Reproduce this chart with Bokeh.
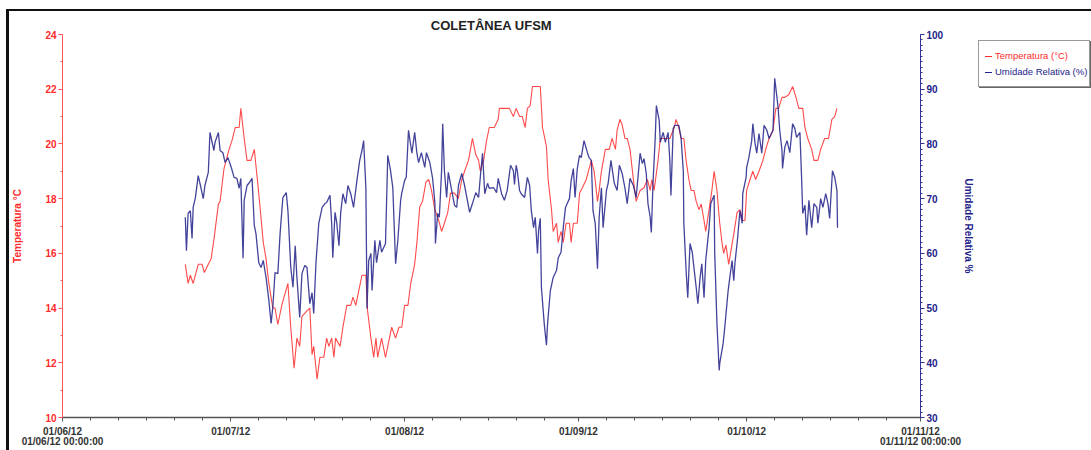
import pandas as pd
from bokeh.plotting import figure
from bokeh.layouts import row
from bokeh.models import (Range1d, LinearAxis, SingleIntervalTicker, FixedTicker,
                          DatetimeTickFormatter, ColumnDataSource, Div)
from bokeh.embed import file_html
from bokeh.resources import INLINE

# ---------------- data ----------------
title_text = "COLETÂNEA UFSM"
period_start = "2012-06-01"
period_end = "2012-11-01"
month_ticks = ["2012-06-01", "2012-07-01", "2012-08-01", "2012-09-01", "2012-10-01", "2012-11-01"]
month_labels = ["01/06/12\n01/06/12 00:00:00", "01/07/12", "01/08/12", "01/09/12", "01/10/12",
                "01/11/12\n01/11/12 00:00:00"]
minor_days = [6, 11, 16, 21, 26]
temp_label = "Temperatura (°C)"
rh_label = "Umidade Relativa (%)"

# days since 2012-06-01
temp_days = [21.9, 22.4, 22.8, 23.3, 24.2, 24.9, 25.3, 26.0, 26.5, 27.0, 27.8, 28.1, 28.8, 29.7, 30.2,
             30.8, 31.5, 31.8, 32.4, 32.9, 33.6, 34.2, 34.9, 35.4, 35.8, 36.3, 36.8, 37.5, 37.9, 38.4,
             39.1, 39.5, 40.2, 40.7, 41.3, 41.8, 42.3, 42.7, 43.6, 44.1, 44.5, 44.8, 45.4, 45.9, 46.6,
             47.1, 47.5, 48.0, 48.4, 48.7, 49.5, 50.0, 50.7, 51.4, 51.8, 52.3, 52.8, 53.4, 54.1, 54.4,
             55.0, 55.5, 55.9, 56.2, 56.9, 57.6, 58.0, 58.7, 59.4, 60.0, 60.5, 61.0, 61.6, 62.1, 62.8,
             63.2, 63.7, 64.2, 64.8, 65.3, 65.8, 66.4, 67.1, 67.6, 68.1, 68.7, 69.2, 69.9, 70.6, 71.2,
             71.7, 72.4, 73.1, 73.7, 74.2, 74.5, 75.1, 75.6, 76.1, 77.0, 77.7, 77.9, 78.8, 79.7, 80.4,
             80.9, 81.5, 82.0, 82.5, 82.9, 83.4, 83.8, 84.7, 85.2, 85.6, 86.3, 86.6, 87.2, 87.5, 88.1,
             88.4, 88.9, 89.3, 89.8, 90.4, 90.7, 91.1, 91.8, 92.2, 92.7, 93.4, 93.9, 94.3, 94.8, 95.4,
             95.7, 96.1, 96.8, 97.5, 98.0, 98.6, 98.9, 99.4, 99.8, 100.3, 100.7, 101.2, 101.8, 102.3,
             103.0, 103.7, 104.3, 104.8, 105.1, 105.5, 106.2, 106.6, 107.5, 108.3, 109.1, 109.4,
             109.9, 110.3, 110.8, 111.2, 111.7, 112.1, 112.6, 113.0, 113.5, 113.9, 114.4, 114.7,
             115.3, 115.8, 116.2, 116.7, 117.2, 117.6, 117.9, 118.3, 118.8, 119.2, 119.7, 120.3,
             120.8, 121.3, 121.7, 122.0, 122.6, 123.1, 123.6, 124.2, 124.9, 125.4, 126.0, 126.7,
             127.2, 127.7, 128.3, 128.8, 129.5, 130.2, 130.8, 131.3, 132.0, 132.4, 132.9, 133.6,
             134.0, 134.7, 135.2, 135.9, 136.6, 137.2, 137.7, 138.1]
temp_values = [15.6, 14.9, 15.2, 14.9, 15.6, 15.6, 15.3, 15.6, 15.8, 16.5, 17.8, 17.9, 19.1, 19.8, 20.1,
               20.6, 20.6, 21.3, 20.2, 19.4, 19.4, 19.8, 18.4, 17.3, 16.4, 15.8, 14.9, 14.0, 14.0, 13.4,
               14.1, 14.4, 14.9, 13.3, 11.8, 12.9, 12.6, 13.7, 13.9, 14.0, 12.3, 12.6, 11.4, 12.2, 12.2,
               12.9, 12.6, 12.9, 12.2, 12.9, 12.6, 13.3, 14.1, 14.1, 14.4, 14.1, 14.6, 15.2, 15.2, 13.9,
               12.9, 12.2, 12.9, 12.2, 12.9, 12.2, 12.6, 13.3, 12.9, 13.3, 13.3, 14.1, 14.1, 14.9, 15.6,
               16.4, 17.7, 17.9, 18.6, 18.7, 18.3, 17.6, 17.2, 16.8, 17.1, 17.5, 18.2, 18.2, 18.0, 18.7,
               19.0, 19.4, 20.2, 19.6, 19.4, 19.0, 19.4, 20.1, 20.6, 20.6, 20.9, 21.3, 21.3, 21.3, 21.0,
               21.3, 21.0, 21.0, 20.6, 21.3, 21.4, 22.1, 22.1, 22.1, 20.6, 19.9, 18.7, 17.6, 16.8, 17.1,
               16.4, 16.8, 16.4, 17.1, 17.1, 16.4, 17.1, 17.1, 18.2, 18.4, 18.7, 19.1, 19.4, 19.0, 17.9,
               18.3, 19.0, 19.8, 19.8, 20.2, 19.8, 20.5, 20.9, 20.7, 20.2, 20.2, 19.8, 18.7, 17.9,
               18.3, 18.4, 18.7, 18.3, 18.7, 18.3, 19.4, 20.2, 20.2, 20.2, 20.6, 20.9,
               20.6, 20.2, 20.2, 19.4, 18.7, 18.3, 18.3, 17.9, 17.6, 17.8, 17.2, 16.8,
               17.6, 18.3, 19.0, 18.3, 17.1, 16.4, 16.0, 16.3, 15.6, 16.1, 16.7, 17.5,
               17.6, 17.2, 17.2, 18.3, 18.7, 19.0, 18.7, 19.0, 19.4, 19.8, 20.2, 20.5,
               21.3, 21.3, 21.7, 21.7, 21.8, 22.1, 21.7, 21.3, 21.3, 20.6, 20.2, 19.8,
               19.4, 19.4, 19.8, 20.2, 20.2, 20.9, 21.0, 21.3]

rh_days = [21.9, 22.1, 22.4, 22.8, 23.1, 23.3, 23.7, 24.2, 24.6, 25.1, 25.4, 26.0, 26.3, 27.0, 27.2,
           27.8, 28.1, 28.6, 29.0, 29.5, 30.1, 30.6, 31.1, 31.5, 31.8, 32.2, 32.4, 32.9, 33.3, 33.8,
           34.2, 34.5, 35.0, 35.4, 35.8, 36.3, 36.8, 37.2, 37.5, 37.9, 38.4, 38.8, 39.3, 39.9, 40.2,
           40.7, 41.1, 41.5, 41.8, 42.3, 42.7, 43.2, 43.6, 44.1, 44.5, 44.8, 45.2, 45.7, 46.3, 46.8,
           47.1, 47.7, 48.0, 48.2, 48.6, 48.9, 49.3, 49.6, 50.0, 50.5, 50.9, 51.4, 51.9, 52.5, 53.0,
           53.4, 53.7, 54.1, 54.3, 54.6, 55.0, 55.2, 55.7, 56.0, 56.6, 56.9, 57.6, 58.0, 58.5, 58.9,
           59.4, 59.8, 60.3, 60.5, 61.0, 61.3, 61.7, 62.3, 62.8, 63.2, 63.5, 64.0, 64.6, 64.9, 65.5,
           66.0, 66.4, 66.5, 66.9, 67.2, 67.6, 67.8, 68.1, 68.5, 68.8, 69.4, 69.9, 70.3, 70.6, 71.2,
           71.7, 72.2, 72.6, 73.1, 73.7, 74.2, 74.5, 74.9, 75.3, 75.8, 76.1, 76.9, 77.4, 77.7, 78.3,
           78.8, 79.3, 79.9, 80.4, 80.6, 80.9, 81.1, 81.5, 81.8, 82.4, 82.9, 83.3, 83.6, 84.0, 84.3,
           84.7, 84.9, 85.2, 85.4, 85.9, 86.3, 86.5, 87.0, 87.5, 88.1, 88.4, 88.9, 89.3, 89.7, 90.0,
           90.4, 90.7, 91.1, 91.4, 91.8, 92.2, 92.5, 93.0, 93.6, 93.9, 94.3, 94.6, 95.0, 95.4, 95.7,
           96.1, 96.4, 97.0, 97.3, 97.8, 98.4, 98.9, 99.3, 99.8, 100.3, 100.7, 101.2, 101.8, 102.3,
           103.0, 103.4, 103.7, 104.1, 104.4, 104.8, 105.0, 105.3, 105.7, 105.9, 106.4, 106.6,
           107.1, 107.5, 108.0, 108.3, 108.5, 108.9, 109.2, 109.9, 110.3, 110.7, 110.8, 111.2,
           111.5, 111.9, 112.3, 112.6, 113.0, 113.3, 113.7, 114.0, 114.4, 114.7, 115.3, 115.6,
           116.2, 116.3, 116.7, 117.1, 117.2, 117.8, 118.1, 118.7, 119.0, 119.4, 119.7, 119.9,
           120.4, 120.8, 121.2, 121.3, 121.9, 122.0, 122.4, 122.9, 123.1, 123.5, 123.8, 124.2,
           124.7, 125.1, 125.6, 126.0, 126.5, 126.7, 127.0, 127.4, 127.6, 127.9, 128.3, 128.4,
           128.8, 129.2, 129.7, 130.2, 130.6, 130.9, 131.5, 131.8, 132.0, 132.4, 132.7, 133.1,
           133.6, 134.0, 134.5, 134.7, 135.2, 135.6, 136.1, 136.5, 136.8, 137.2, 137.3, 137.7,
           138.1, 138.2]
rh_values = [66.6, 60.5, 67.3, 67.8, 62.7, 68.4, 70.2, 74.2, 72.4, 70.0, 72.4, 74.8, 82.1, 78.8, 80.3,
             82.1, 78.8, 78.4, 76.6, 77.5, 75.7, 73.9, 73.7, 71.9, 73.7, 59.1, 69.7, 72.4, 72.9, 73.7,
             65.1, 63.6, 58.3, 57.4, 58.7, 55.6, 51.4, 47.2, 50.1, 56.5, 56.3, 63.6, 70.2, 71.1, 67.8,
             57.5, 53.8, 61.4, 55.6, 48.3, 56.3, 57.8, 57.4, 50.8, 52.8, 49.0, 58.3, 65.5, 68.4, 69.1,
             69.3, 70.6, 65.5, 59.2, 67.5, 65.6, 61.4, 67.3, 70.9, 69.1, 72.4, 70.9, 68.4, 73.3, 77.0,
             78.8, 80.6, 72.0, 49.9, 58.7, 60.0, 53.2, 62.4, 58.3, 62.4, 60.2, 61.8, 77.9, 75.1, 72.0,
             58.1, 62.4, 69.7, 71.0, 73.3, 73.9, 82.5, 78.3, 82.1, 78.3, 76.6, 78.4, 75.7, 78.4, 76.6,
             73.7, 69.3, 61.8, 67.3, 66.6, 75.1, 83.7, 75.1, 70.2, 74.8, 71.5, 68.8, 68.4, 72.4, 74.6,
             72.4, 69.7, 67.5, 69.1, 71.1, 70.2, 73.9, 78.3, 70.9, 72.8, 71.9, 72.0, 71.1, 73.7, 70.9,
             69.7, 71.5, 76.1, 75.1, 72.6, 76.1, 75.1, 71.5, 70.9, 70.2, 73.9, 72.4, 67.8, 64.7, 66.6,
             60.0, 64.2, 66.4, 53.8, 47.2, 43.2, 47.2, 53.2, 55.6, 56.9, 59.2, 60.2, 64.7, 68.4, 69.1,
             70.0, 73.3, 75.5, 70.2, 75.5, 77.9, 77.5, 80.6, 78.4, 77.5, 77.0, 67.8, 65.5, 57.2, 66.6,
             72.0, 64.7, 71.5, 72.8, 77.0, 72.8, 71.5, 76.1, 74.6, 71.9, 69.1, 73.7, 72.4, 70.2,
             78.3, 76.4, 77.3, 74.6, 69.1, 66.6, 63.8, 72.8, 81.2, 87.0, 84.3, 80.3,
             82.1, 80.3, 82.1, 77.0, 70.6, 82.8, 83.4, 83.4, 81.2, 75.1, 65.5, 56.9,
             51.9, 61.8, 60.2, 57.4, 53.8, 50.8, 55.6, 58.1, 51.9, 58.7, 64.7, 69.1,
             70.6, 60.2, 47.2, 38.6, 39.9, 43.5, 46.5, 53.2, 55.6, 58.7, 55.0, 58.1,
             62.9, 67.8, 65.5, 70.9, 73.9, 75.7, 77.5, 80.6, 83.7, 80.1, 78.3, 81.9,
             78.3, 83.4, 82.5, 81.0, 82.1, 82.5, 92.0, 88.5, 86.7, 82.5, 78.8, 75.5,
             79.4, 80.6, 78.4, 83.7, 82.8, 81.2, 82.1, 73.7, 67.3, 68.8, 63.3, 69.7,
             64.7, 69.1, 68.4, 65.5, 70.0, 68.4, 70.9, 69.1, 66.4, 73.3, 75.1, 73.9,
             71.5, 64.7]

# ---------------- build ----------------
FONT = "Liberation Sans"
RED = "#ff2a2a"
NAVY = "#22228a"

t0 = pd.Timestamp(period_start)
temp_src = ColumnDataSource(dict(t=t0 + pd.to_timedelta(temp_days, unit="D"), v=temp_values))
rh_src = ColumnDataSource(dict(t=t0 + pd.to_timedelta(rh_days, unit="D"), v=rh_values))

p = figure(width=968, height=439, x_axis_type="datetime",
           x_range=Range1d(pd.Timestamp(period_start), pd.Timestamp(period_end)),
           y_range=Range1d(10, 24), output_backend="svg", toolbar_location=None,
           min_border_left=52, min_border_right=56, min_border_top=23, min_border_bottom=33)
p.extra_y_ranges = {"rh": Range1d(30, 100)}
p.grid.visible = False
p.outline_line_color = None
p.background_fill_color = "white"
p.border_fill_color = "white"

p.title.text = title_text
p.title.align = "center"
p.title.text_font = FONT
p.title.text_font_size = "13px"
p.title.text_font_style = "bold"
p.title.text_color = "#222222"
p.title.standoff = 3

# x axis
ms = lambda s: pd.Timestamp(s).value / 1e6
major = [ms(s) for s in month_ticks]
minor = []
for s in month_ticks[:-1]:
    ts = pd.Timestamp(s)
    minor += [ms(ts + pd.Timedelta(days=d - 1)) for d in minor_days]
xa = p.xaxis[0]
xa.ticker = FixedTicker(ticks=major, minor_ticks=minor)
xa.formatter = DatetimeTickFormatter(days="%d/%m/%y", months="%d/%m/%y")
xa.major_label_overrides = {m: lab for m, lab in zip(major, month_labels)}
xa.axis_line_color = "#555555"
xa.axis_line_width = 1.5
xa.major_tick_line_color = "#555555"
xa.minor_tick_line_color = "#555555"
xa.major_tick_out = 4
xa.major_tick_in = 0
xa.minor_tick_out = 3
xa.minor_tick_in = 0
xa.major_label_standoff = 4
xa.major_label_text_font = FONT
xa.major_label_text_font_size = "10px"
xa.major_label_text_font_style = "bold"
xa.major_label_text_color = "#333333"
xa.major_label_text_line_height = 0.95

# left axis
ya = p.yaxis[0]
ya.ticker = SingleIntervalTicker(interval=2, num_minor_ticks=2)
ya.axis_label = "Temperatura °C"
ya.axis_label_text_color = RED
ya.axis_label_text_font = FONT
ya.axis_label_text_font_size = "10px"
ya.axis_label_text_font_style = "bold"
ya.axis_label_standoff = 19
ya.axis_line_color = "#ff5555"
ya.major_tick_line_color = "#ff5555"
ya.minor_tick_line_color = "#ff5555"
ya.major_tick_out = 4
ya.major_tick_in = 0
ya.minor_tick_out = 2
ya.minor_tick_in = 0
ya.major_label_standoff = 2
ya.major_label_text_color = RED
ya.major_label_text_font = FONT
ya.major_label_text_font_size = "10px"
ya.major_label_text_font_style = "bold"

# right axis
ra = LinearAxis(y_range_name="rh", ticker=SingleIntervalTicker(interval=10, num_minor_ticks=10))
ra.axis_label = "Umidade Relativa %"
ra.axis_label_text_color = NAVY
ra.axis_label_text_font = FONT
ra.axis_label_text_font_size = "10px"
ra.axis_label_text_font_style = "bold"
ra.axis_label_standoff = 17
ra.axis_line_color = "#33339a"
ra.major_tick_line_color = "#33339a"
ra.minor_tick_line_color = "#33339a"
ra.major_tick_out = 4
ra.major_tick_in = 0
ra.minor_tick_out = 2
ra.minor_tick_in = 0
ra.major_label_standoff = 2
ra.major_label_text_color = NAVY
ra.major_label_text_font = FONT
ra.major_label_text_font_size = "10px"
ra.major_label_text_font_style = "bold"
p.add_layout(ra, "right")

p.line("t", "v", source=temp_src, line_color=RED, line_width=1.1, line_alpha=0.85)
p.line("t", "v", source=rh_src, line_color=NAVY, line_width=1.3, line_alpha=0.85,
       y_range_name="rh")

# ---------------- legend box ----------------
def entry(color, text):
    return (f'<div style="color:{color};height:16px;line-height:16px;">'
            f'<span style="display:inline-block;width:7px;height:1px;background:{color};'
            f'vertical-align:middle;margin:0 3px 0 6px;"></span>{text}</div>')

legend_html = (
    '<div style="margin:29px 0 0 1px;width:112px;height:47px;box-sizing:border-box;'
    'border:1px solid #999;box-shadow:1px 1px 0 #666;background:#fff;padding-top:7px;'
    f"font-family:'{FONT}',Arial,sans-serif;font-size:9.5px;white-space:nowrap;overflow:hidden;\">"
    + entry(RED, temp_label) + entry(NAVY, rh_label) + '</div>')
legend_div = Div(text=legend_html, width=114, height=439, margin=0)

layout = row(p, legend_div,
             styles={"margin-left": "6px", "margin-top": "9px",
                     "border-left": "3px solid #111", "border-top": "2px solid #111"})

open("out.html", "w").write(file_html(layout, INLINE))
